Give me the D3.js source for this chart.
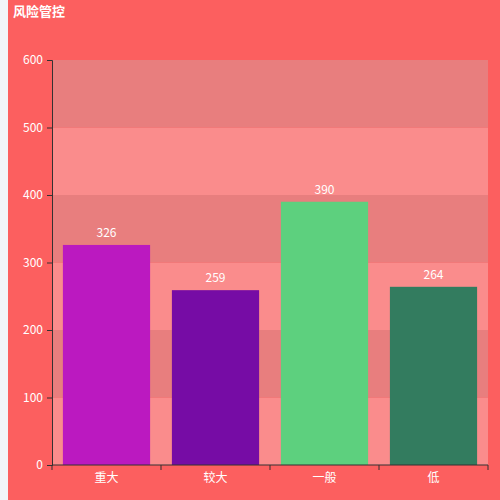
<!DOCTYPE html>
<html><head><meta charset="utf-8">
<script src="https://cdn.jsdelivr.net/npm/d3@7/dist/d3.min.js"></script>
<style>body{margin:0;background:#f2f4f8;}svg{display:block;}</style>
</head><body>
<svg id="c" width="500" height="500"></svg>
<script>
const title = "风险管控";
const categories = ["重大", "较大", "一般", "低"];
const values = [326, 259, 390, 264];
const barColors = ["#bb19c0", "#760ca5", "#5dd07e", "#337c5f"];
const yTicks = [0, 100, 200, 300, 400, 500, 600];

const svg = d3.select("#c");
const font = "'Microsoft YaHei','Noto Sans CJK SC',sans-serif";
svg.append("rect").attr("x", 8).attr("y", 0).attr("width", 492).attr("height", 500).attr("fill", "#fc5f5f");
svg.append("text").attr("x", 13).attr("y", 16).attr("fill", "#fff").attr("font-size", 13)
  .attr("font-weight", "bold").attr("font-family", font).text(title);

const L = 52, R = 488, T = 60, B = 465;
const x = d3.scaleBand().domain(categories).range([L, R]).paddingInner(0.2).paddingOuter(0.1);
const y = d3.scaleLinear().domain([0, 600]).range([B, T]);

// split area bands
const bands = yTicks.slice(0, -1).map((v, i) => ({lo: v, hi: yTicks[i + 1], i}));
svg.append("g").selectAll("rect").data(bands).join("rect")
  .attr("x", L).attr("width", R - L)
  .attr("y", d => y(d.hi)).attr("height", d => y(d.lo) - y(d.hi))
  .attr("fill", d => d.i % 2 === 0 ? "#fa8c8c" : "#e87e7e");

svg.append("g").selectAll("rect").data(values).join("rect")
  .attr("x", (d, i) => x(categories[i])).attr("width", x.bandwidth())
  .attr("y", d => y(d)).attr("height", d => B - y(d))
  .attr("fill", (d, i) => barColors[i]);

svg.append("g").selectAll("text").data(values).join("text")
  .attr("x", (d, i) => x(categories[i]) + x.bandwidth() / 2).attr("y", d => y(d) - 8)
  .attr("text-anchor", "middle").attr("fill", "#fff").attr("font-size", 12).attr("font-family", font)
  .text(d => d);

// y axis
const ya = svg.append("g").attr("transform", `translate(${L},0)`)
  .call(d3.axisLeft(y).tickValues(yTicks).tickSize(5).tickPadding(4));
ya.selectAll("path,line").attr("stroke", "#333");
ya.selectAll("text").attr("fill", "#fff").attr("font-size", 12).attr("font-family", font);

// x axis with boundary ticks
const xa = svg.append("g").attr("transform", `translate(0,${B})`);
xa.append("line").attr("x1", L).attr("x2", R).attr("stroke", "#333");
const step = (R - L) / categories.length;
const bounds = d3.range(categories.length + 1).map(i => L + i * step);
xa.selectAll("line.t").data(bounds).join("line").attr("class", "t")
  .attr("x1", d => d).attr("x2", d => d).attr("y1", 0).attr("y2", 5).attr("stroke", "#333");
xa.selectAll("text").data(categories).join("text")
  .attr("x", d => x(d) + x.bandwidth() / 2).attr("y", 17)
  .attr("text-anchor", "middle").attr("fill", "#fff").attr("font-size", 12).attr("font-family", font)
  .text(d => d);
</script>
</body></html>
